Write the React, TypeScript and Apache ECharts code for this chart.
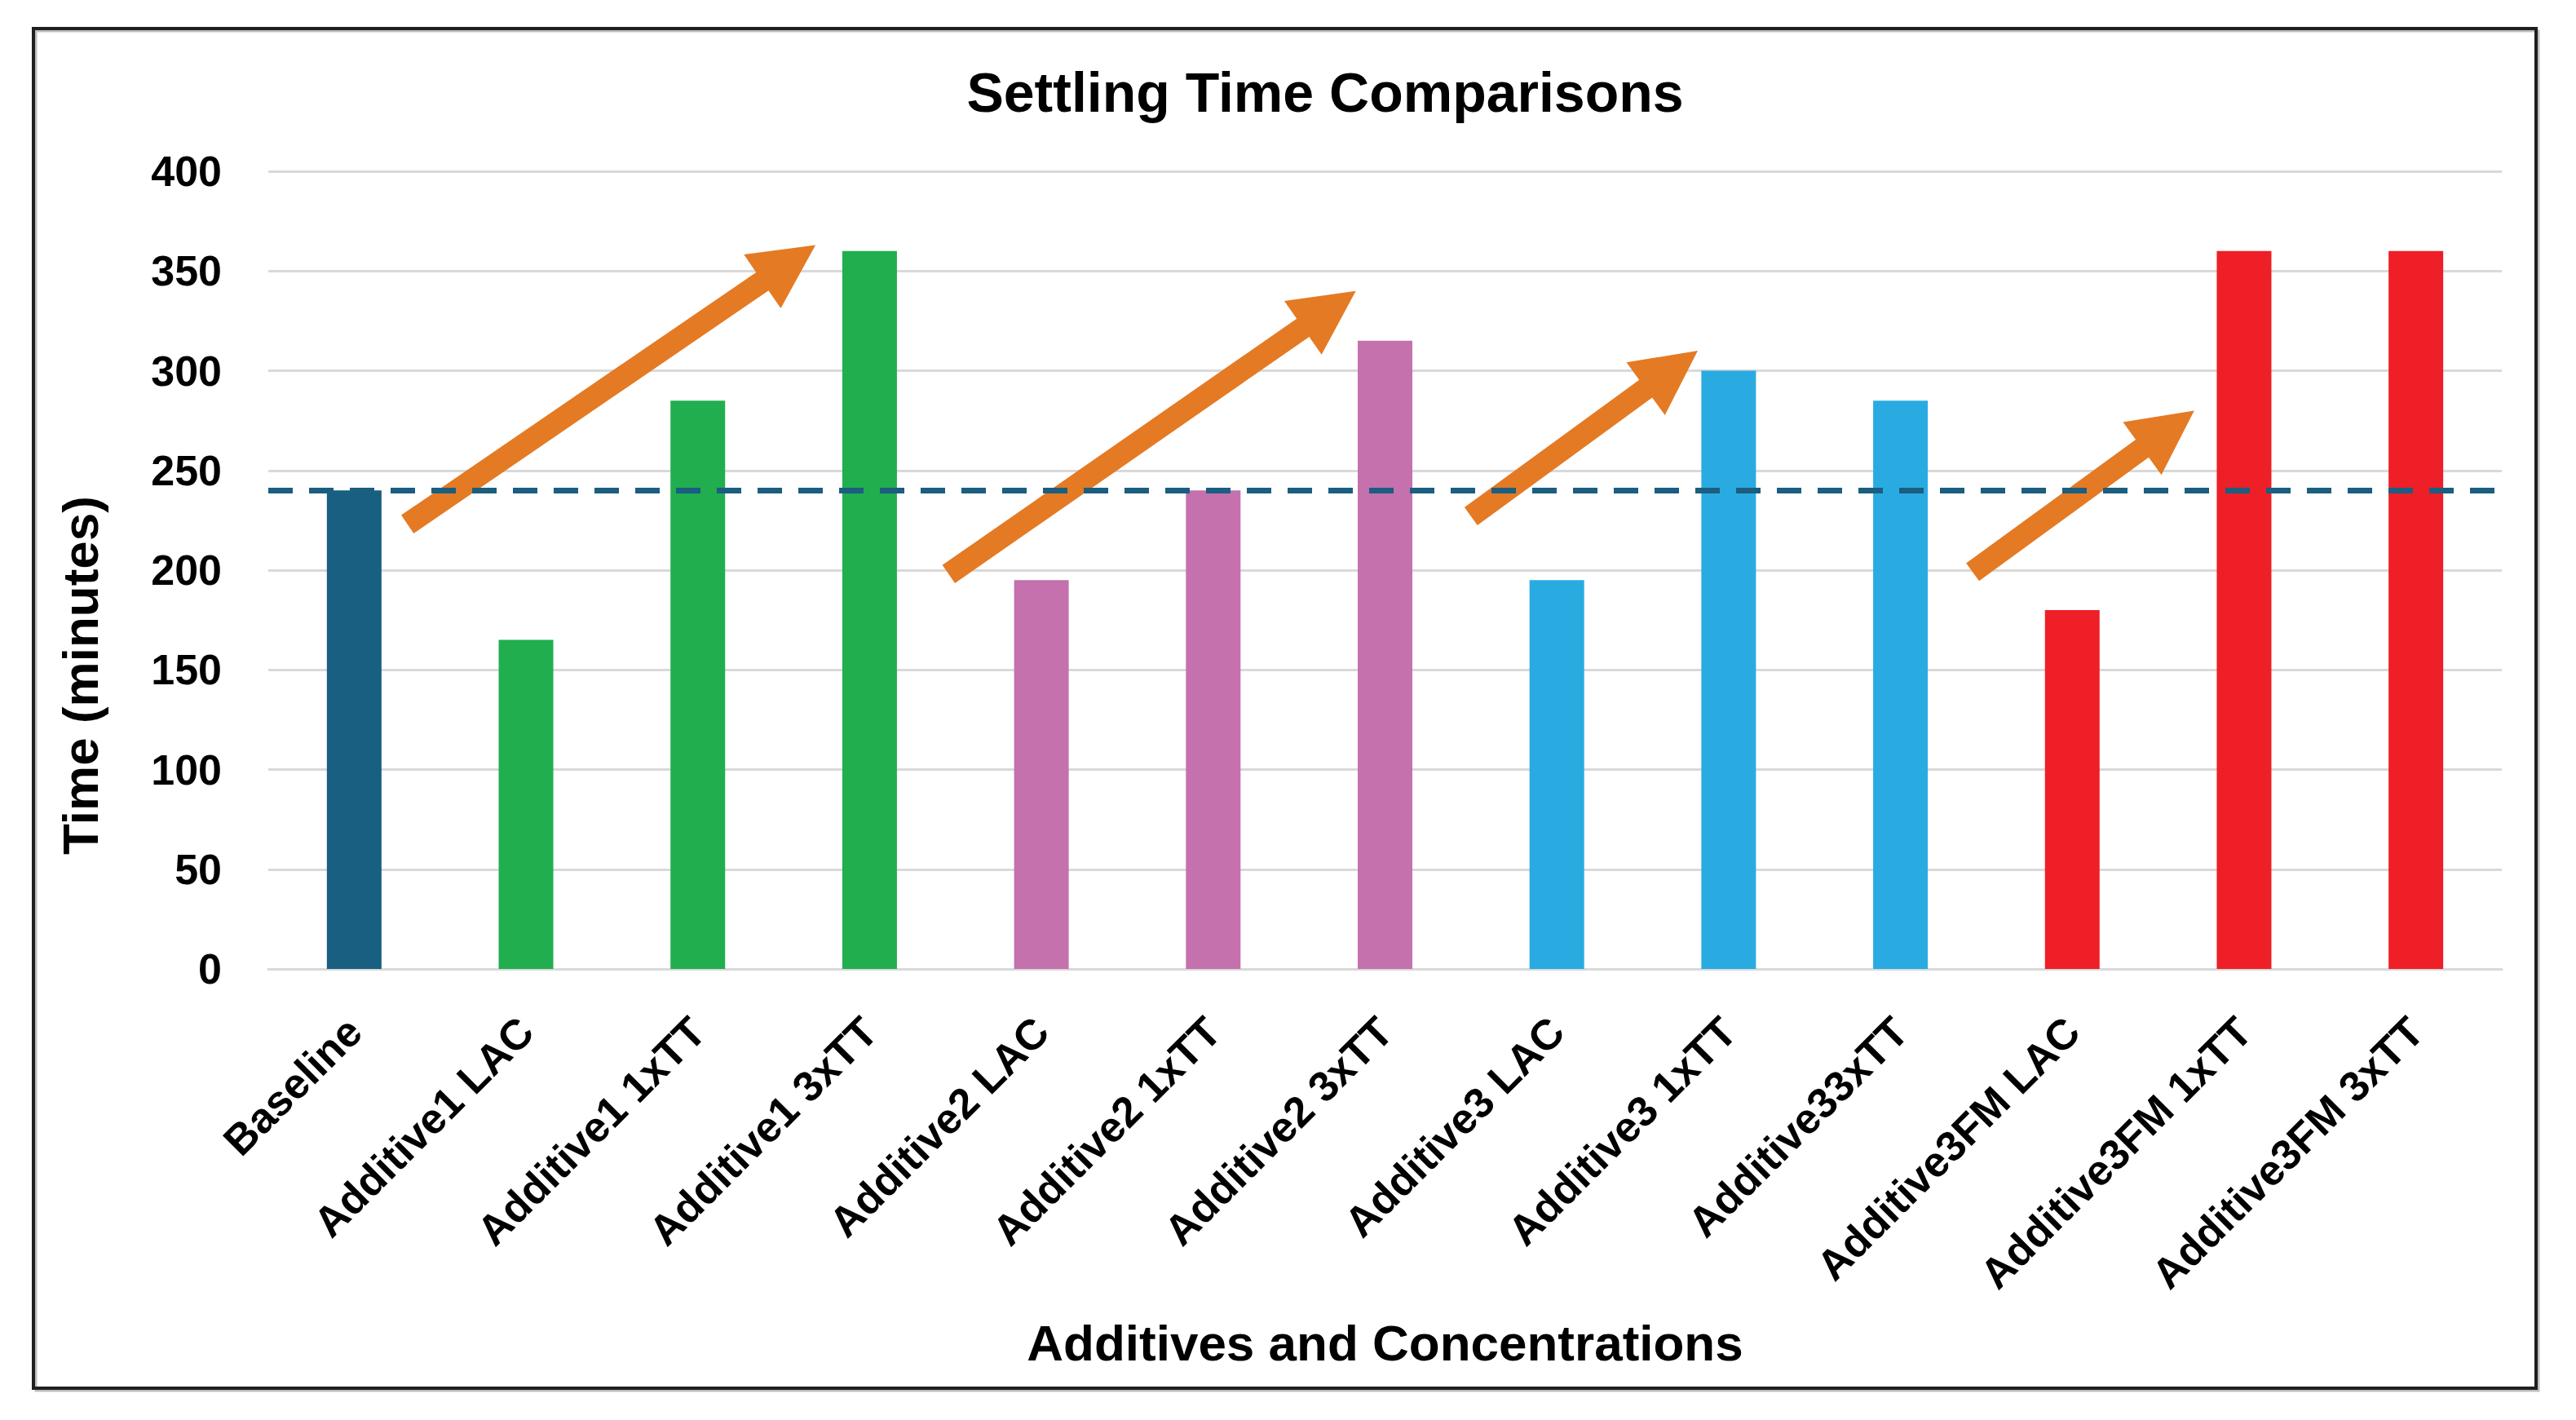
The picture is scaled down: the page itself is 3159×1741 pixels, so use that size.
import React, { useEffect, useRef } from "react";
import * as echarts from "echarts";

const categories = [
  "Baseline",
  "Additive1 LAC",
  "Additive1 1xTT",
  "Additive1 3xTT",
  "Additive2 LAC",
  "Additive2 1xTT",
  "Additive2 3xTT",
  "Additive3 LAC",
  "Additive3 1xTT",
  "Additive33xTT",
  "Additive3FM LAC",
  "Additive3FM 1xTT",
  "Additive3FM 3xTT",
];
const settlingTimes = [240, 165, 285, 360, 195, 240, 315, 195, 300, 285, 180, 360, 360];
const groupOf = [0, 1, 1, 1, 2, 2, 2, 3, 3, 3, 4, 4, 4];
const groupColors = ["#185F81", "#21AE4F", "#C471AE", "#29ABE2", "#EE1F27"];
const baselineValue = 240;
const yMin = 0;
const yMax = 400;
const yInterval = 50;
// trend arrows: [category position, value] for tail and tip
const arrowTails = [
  [0.31, 223],
  [3.46, 198],
  [6.5, 227],
  [9.42, 199],
];
const arrowTips = [
  [2.685, 363],
  [5.83, 340],
  [7.82, 310],
  [10.71, 280],
];

const FONT = "'Liberation Sans', Arial, sans-serif";

export default function App() {
  const ref = useRef<HTMLDivElement>(null);

  useEffect(() => {
    const chart = echarts.init(ref.current!, null, {
      renderer: "svg",
      width: 3159,
      height: 1741,
    });

    chart.setOption({
      animation: false,
      backgroundColor: "#ffffff",
      title: {
        text: "Settling Time Comparisons",
        left: 1620,
        top: 74,
        textAlign: "center",
        textStyle: {
          fontFamily: FONT,
          fontWeight: "bold",
          fontSize: 68,
          color: "#000000",
        },
      },
      grid: { left: 329, right: 91, top: 210, bottom: 553, containLabel: false },
      xAxis: {
        type: "category",
        data: categories,
        axisLine: { show: true, lineStyle: { color: "#D9D9D9", width: 3 } },
        axisTick: { show: false },
        axisLabel: {
          rotate: 45,
          margin: 68,
          interval: 0,
          fontFamily: FONT,
          fontWeight: "bold",
          fontSize: 52,
          color: "#000000",
        },
        name: "Additives and Concentrations",
        nameLocation: "middle",
        nameGap: 427,
        nameTextStyle: {
          fontFamily: FONT,
          fontWeight: "bold",
          fontSize: 62,
          color: "#000000",
        },
      },
      yAxis: {
        type: "value",
        min: yMin,
        max: yMax,
        interval: yInterval,
        axisLine: { show: false },
        axisTick: { show: false },
        splitLine: { lineStyle: { color: "#D9D9D9", width: 3 } },
        axisLabel: {
          margin: 57,
          fontFamily: FONT,
          fontWeight: "bold",
          fontSize: 52,
          color: "#000000",
        },
      },
      series: [
        {
          type: "bar",
          barWidth: 67,
          data: settlingTimes.map((v, i) => ({
            value: v,
            itemStyle: { color: groupColors[groupOf[i]] },
          })),
          markLine: {
            silent: true,
            symbol: ["none", "none"],
            label: { show: false },
            lineStyle: { color: "#1B5E80", width: 7, type: [30, 20] },
            data: [{ yAxis: baselineValue }],
          },
        },
      ],
    });

    const xa = chart.convertToPixel({ xAxisIndex: 0 }, categories[0]) as number;
    const xb = chart.convertToPixel({ xAxisIndex: 0 }, categories[1]) as number;
    const toPx = (p: number[]) => [
      xa + p[0] * (xb - xa),
      chart.convertToPixel({ yAxisIndex: 0 }, p[1]) as number,
    ];

    const shaftHalf = 13.5;
    const headHalf = 40;
    const headLen = 79;
    const arrows = arrowTails.map((tailD, k) => {
      const t = toPx(tailD);
      const p = toPx(arrowTips[k]);
      const dx = p[0] - t[0];
      const dy = p[1] - t[1];
      const len = Math.hypot(dx, dy);
      const ux = dx / len;
      const uy = dy / len;
      const nx = -uy;
      const ny = ux;
      const bx = p[0] - ux * headLen;
      const by = p[1] - uy * headLen;
      const pts = [
        [t[0] + nx * shaftHalf, t[1] + ny * shaftHalf],
        [bx + nx * shaftHalf, by + ny * shaftHalf],
        [bx + nx * headHalf, by + ny * headHalf],
        [p[0], p[1]],
        [bx - nx * headHalf, by - ny * headHalf],
        [bx - nx * shaftHalf, by - ny * shaftHalf],
        [t[0] - nx * shaftHalf, t[1] - ny * shaftHalf],
      ];
      return {
        type: "polygon",
        silent: true,
        shape: { points: pts },
        style: { fill: "#E47A24" },
      };
    });

    chart.setOption({
      graphic: [
        {
          type: "rect",
          silent: true,
          shape: { x: 44, y: 38, width: 3069, height: 1667 },
          style: { fill: "none", stroke: "#BDBDBD", lineWidth: 3 },
        },
        {
          type: "rect",
          silent: true,
          shape: { x: 41, y: 35, width: 3069, height: 1667 },
          style: { fill: "none", stroke: "#1F1F1F", lineWidth: 4 },
        },
        {
          type: "text",
          silent: true,
          x: 98,
          y: 828,
          rotation: Math.PI / 2,
          style: {
            text: "Time (minutes)",
            fontFamily: FONT,
            fontWeight: "bold",
            fontSize: 62,
            fill: "#000000",
            align: "center",
            verticalAlign: "middle",
          },
        },
        ...arrows,
      ],
    });

    return () => chart.dispose();
  }, []);

  return (
    <div
      ref={ref}
      style={{ position: "absolute", left: 0, top: 0, width: 3159, height: 1741, background: "#fff" }}
    />
  );
}
